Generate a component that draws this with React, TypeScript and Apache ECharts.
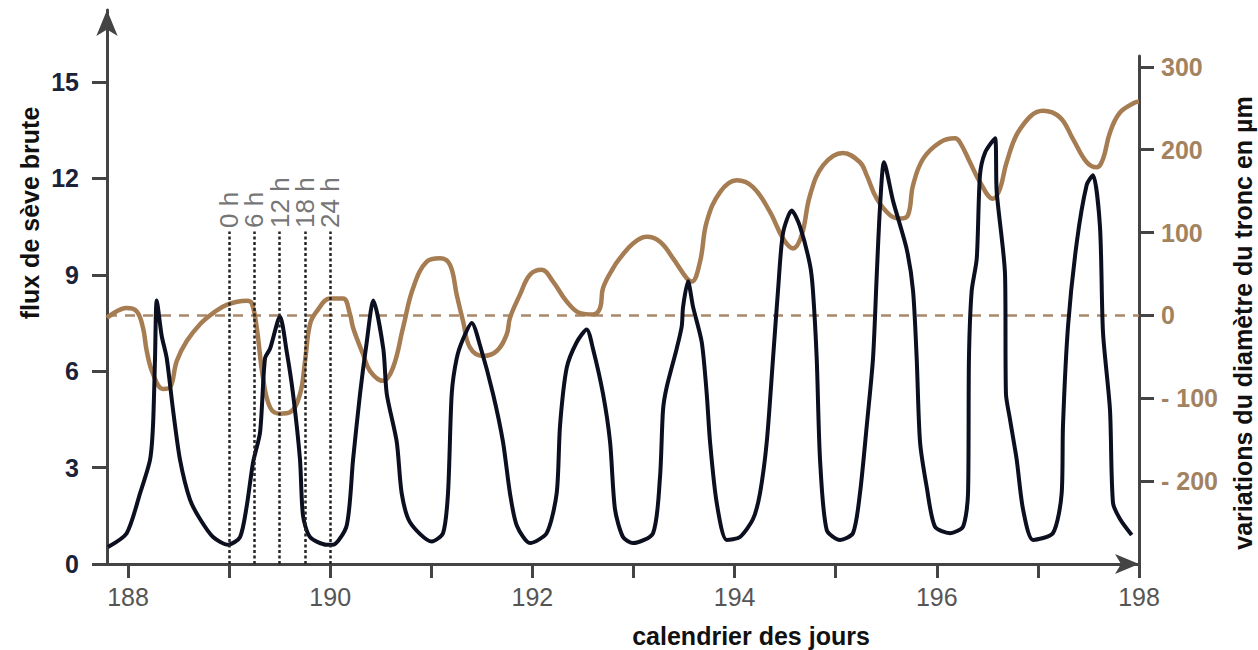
import React, { useEffect, useRef } from "react";
import * as echarts from "echarts";

// flux de sève brute (left axis) : [jour, valeur]
const fluxDays = [187.802, 187.987, 188.119, 188.218, 188.247, 188.267, 188.284, 188.333, 188.383, 188.445, 188.514, 188.613, 188.712, 188.841, 188.99, 189.108, 189.174, 189.236, 189.306, 189.355, 189.405, 189.503, 189.57, 189.632, 189.701, 189.731, 189.8, 189.965, 190.028, 190.163, 190.226, 190.295, 190.361, 190.426, 190.525, 190.559, 190.658, 190.707, 190.789, 191.004, 191.116, 191.165, 191.202, 191.251, 191.314, 191.4, 191.482, 191.61, 191.709, 191.778, 191.845, 191.976, 192.141, 192.24, 192.273, 192.339, 192.438, 192.537, 192.599, 192.698, 192.768, 192.817, 192.896, 192.995, 193.193, 193.262, 193.292, 193.328, 193.427, 193.477, 193.49, 193.539, 193.589, 193.675, 193.724, 193.757, 193.823, 193.922, 194.053, 194.182, 194.251, 194.318, 194.38, 194.429, 194.479, 194.565, 194.647, 194.746, 194.775, 194.812, 194.845, 194.911, 195.043, 195.171, 195.24, 195.307, 195.369, 195.406, 195.438, 195.478, 195.567, 195.702, 195.765, 195.801, 195.834, 195.9, 195.982, 196.131, 196.259, 196.309, 196.318, 196.345, 196.395, 196.427, 196.477, 196.576, 196.592, 196.675, 196.684, 196.724, 196.79, 196.853, 196.952, 197.149, 197.235, 197.248, 197.298, 197.384, 197.483, 197.545, 197.614, 197.644, 197.713, 197.743, 197.812, 197.928];
const fluxValues = [0.53, 0.96, 2.2, 3.25, 4.3, 6.4, 8.2, 7.1, 6.4, 4.8, 3.25, 2.0, 1.4, 0.84, 0.6, 0.84, 1.8, 3.15, 4.1, 6.4, 6.7, 7.7, 6.6, 5.3, 3.25, 1.5, 0.84, 0.6, 0.6, 1.2, 3.25, 5.3, 6.9, 8.2, 6.7, 5.3, 3.8, 2.2, 1.3, 0.7, 0.96, 2.2, 5.3, 6.4, 7.0, 7.5, 6.8, 5.3, 3.8, 2.2, 1.2, 0.65, 0.96, 2.2, 4.3, 6.1, 6.9, 7.3, 6.7, 5.3, 3.8, 1.7, 0.84, 0.65, 0.96, 2.7, 4.8, 5.5, 6.7, 7.4, 8.0, 8.8, 8.0, 6.9, 5.3, 3.8, 1.9, 0.75, 0.84, 1.4, 2.2, 3.8, 6.4, 8.5, 10.3, 11.0, 10.5, 9.3, 8.5, 6.4, 3.25, 1.06, 0.75, 0.96, 2.2, 4.3, 6.4, 9.0, 11.1, 12.5, 11.3, 9.8, 8.5, 6.4, 3.8, 2.4, 1.16, 0.96, 1.16, 2.2, 6.4, 8.5, 9.5, 12.1, 12.8, 13.25, 11.6, 9.0, 5.3, 4.5, 3.25, 1.7, 0.75, 0.96, 2.2, 4.3, 7.4, 10.0, 11.8, 12.1, 10.5, 7.2, 4.8, 1.9, 1.4, 0.9];

// variations du diamètre du tronc (right axis, µm)
const diamDays = [187.792, 187.987, 188.086, 188.148, 188.185, 188.247, 188.346, 188.415, 188.482, 188.581, 188.712, 188.841, 188.976, 189.174, 189.224, 189.273, 189.335, 189.405, 189.503, 189.602, 189.701, 189.751, 189.8, 189.866, 189.998, 190.127, 190.196, 190.226, 190.324, 190.394, 190.522, 190.621, 190.72, 190.819, 190.955, 191.086, 191.185, 191.251, 191.314, 191.383, 191.511, 191.647, 191.746, 191.778, 191.877, 191.976, 192.092, 192.204, 192.339, 192.471, 192.599, 192.669, 192.698, 192.797, 192.866, 192.995, 193.131, 193.262, 193.391, 193.526, 193.576, 193.658, 193.724, 193.856, 194.021, 194.182, 194.35, 194.479, 194.578, 194.664, 194.746, 194.875, 195.072, 195.24, 195.307, 195.406, 195.537, 195.636, 195.715, 195.765, 195.864, 196.032, 196.18, 196.229, 196.328, 196.427, 196.556, 196.625, 196.691, 196.823, 197.05, 197.219, 197.347, 197.483, 197.582, 197.644, 197.713, 197.812, 197.96, 198.0];
const diamValues = [-3, 8.8, 4.8, -15, -43, -70.6, -88.8, -87, -55, -31, -10.6, 2.8, 12.8, 17.6, 14.8, -15, -75, -111, -118.6, -117, -95, -55, -10.6, 4.8, 20.4, 20.4, 1.2, -15, -46.6, -67.2, -79, -63, -15, 32.8, 64.8, 68.8, 61, 25, -7, -39, -49, -43, -22.8, -3, 25, 49, 55, 40.8, 16.8, 2.8, 1.2, 8.8, 32.8, 56.8, 69, 86.8, 94.8, 88.8, 68.8, 44.8, 40.8, 64.8, 112.8, 148.8, 163, 154.8, 124.8, 92.8, 80.8, 97, 145, 181, 196, 184.8, 169, 140.8, 121, 116.8, 121, 157, 188.8, 208.8, 213.6, 208.8, 184.8, 160.8, 140.8, 152.8, 184.8, 224.8, 246.8, 238.8, 212.8, 184.8, 178.8, 188.8, 220.8, 244.8, 256.8, 258];

const dayTicks = [188, 189, 190, 191, 192, 193, 194, 195, 196, 197, 198];
const dayLabels = [188, 190, 192, 194, 196, 198];
const fluxTicks = [0, 3, 6, 9, 12, 15];
const diamTicks = [-200, -100, 0, 100, 200, 300];
const hourDays = [189, 189.25, 189.5, 189.75, 190];
const hourLabels = ["0 h", "6 h", "12 h", "18 h", "24 h"];
const hourLineTop = 10.35;
const hourLineBottom = 0;

const FONT = "Liberation Sans, Arial, sans-serif";
const AXIS_COLOR = "#444";

export default function App() {
  const ref = useRef<HTMLDivElement>(null);
  useEffect(() => {
    if (!ref.current) return;
    const chart = echarts.init(ref.current, undefined, { renderer: "svg" });
    const xMin = 187.792;
    const xMax = 198;
    const option: any = {
      animation: false,
      backgroundColor: "#fff",
      textStyle: { fontFamily: FONT },
      grid: [
        { left: 107, right: 119, top: 10, bottom: 86 },
        { left: 107, right: 119, top: 56, bottom: 86 },
      ],
      xAxis: [
        {
          type: "value",
          gridIndex: 0,
          min: xMin,
          max: xMax,
          axisLine: {
            onZero: false,
            symbol: ["none", "arrow"],
            symbolSize: [15, 24],
            lineStyle: { color: AXIS_COLOR, width: 3 },
          },
          axisTick: { show: true, length: 14, lineStyle: { color: AXIS_COLOR, width: 3 }, customValues: dayTicks },
          axisLabel: {
            customValues: dayLabels,
            formatter: (v: number) => String(Math.round(v)),
            color: "#555",
            fontSize: 25,
            fontFamily: FONT,
            margin: 20,
          },
          splitLine: { show: false },
        },
        {
          type: "value",
          gridIndex: 1,
          min: xMin,
          max: xMax,
          show: false,
        },
      ],
      yAxis: [
        {
          type: "value",
          gridIndex: 0,
          position: "left",
          min: 0,
          max: 17.24,
          axisLine: {
            show: true,
            onZero: false,
            symbol: ["none", "arrow"],
            symbolSize: [16, 26],
            lineStyle: { color: AXIS_COLOR, width: 3 },
          },
          axisTick: { show: true, length: 15, lineStyle: { color: AXIS_COLOR, width: 3 }, customValues: fluxTicks },
          axisLabel: {
            customValues: fluxTicks,
            color: "#1c2237",
            fontSize: 25,
            fontWeight: "bold",
            fontFamily: FONT,
            margin: 28,
          },
          splitLine: { show: false },
        },
        {
          type: "value",
          gridIndex: 1,
          position: "right",
          min: -300,
          max: 313,
          axisLine: { show: true, onZero: false, lineStyle: { color: AXIS_COLOR, width: 3 } },
          axisTick: { show: true, length: 15, lineStyle: { color: AXIS_COLOR, width: 3 }, customValues: diamTicks },
          axisLabel: {
            customValues: diamTicks,
            formatter: (v: number) => (v < 0 ? "- " + Math.abs(v) : String(v)),
            color: "#a3835f",
            fontSize: 25,
            fontWeight: "bold",
            fontFamily: FONT,
            margin: 22,
          },
          splitLine: { show: false },
        },
      ],
      series: [
        {
          type: "line",
          name: "diametre",
          xAxisIndex: 1,
          yAxisIndex: 1,
          data: diamDays.map((d, i) => [d, diamValues[i]]),
          showSymbol: false,
          smooth: 0.4,
          lineStyle: { color: "#a67c52", width: 4.5 },
          z: 2,
          markLine: {
            silent: true,
            symbol: ["none", "none"],
            label: { show: false },
            lineStyle: { color: "#a8886a", type: [10, 8], width: 2.5 },
            data: [{ yAxis: 0 }],
            z: 1,
          },
        },
        {
          type: "line",
          name: "flux",
          xAxisIndex: 0,
          yAxisIndex: 0,
          data: fluxDays.map((d, i) => [d, fluxValues[i]]),
          showSymbol: false,
          smooth: 0.25,
          lineStyle: { color: "#0b0f1f", width: 4 },
          z: 3,
          markLine: {
            silent: true,
            symbol: ["none", "none"],
            label: { show: false },
            lineStyle: { color: "#222", type: [3, 2.5], width: 2.5 },
            data: hourDays.map((d) => [{ coord: [d, hourLineBottom] }, { coord: [d, hourLineTop] }]),
          },
        },
        {
          type: "scatter",
          xAxisIndex: 0,
          yAxisIndex: 0,
          silent: true,
          symbolSize: 1,
          itemStyle: { color: "rgba(0,0,0,0)" },
          data: hourDays.map((d, i) => ({ value: [d, hourLineTop], name: hourLabels[i] })),
          label: {
            show: true,
            position: "top",
            distance: 3,
            rotate: 90,
            align: "left",
            verticalAlign: "middle",
            formatter: (p: any) => p.name,
            color: "#505050",
            fontSize: 26,
            fontFamily: FONT,
          },
          z: 4,
        },
      ],
      graphic: [
        {
          type: "text",
          x: 30,
          y: 213,
          rotation: Math.PI / 2,
          style: {
            text: "flux de sève brute",
            font: "bold 25px " + FONT,
            fill: "#111",
            align: "center",
            verticalAlign: "middle",
            textAlign: "center",
            textVerticalAlign: "middle",
          },
        },
        {
          type: "text",
          x: 751,
          y: 636,
          style: {
            text: "calendrier des jours",
            font: "bold 25px " + FONT,
            fill: "#111",
            align: "center",
            verticalAlign: "middle",
            textAlign: "center",
            textVerticalAlign: "middle",
          },
        },
        {
          type: "text",
          x: 1243,
          y: 323,
          rotation: Math.PI / 2,
          style: {
            text: "variations du diamètre du tronc en µm",
            font: "bold 25px " + FONT,
            fill: "#111",
            align: "center",
            verticalAlign: "middle",
            textAlign: "center",
            textVerticalAlign: "middle",
          },
        },
      ],
    };
    chart.setOption(option);
    return () => chart.dispose();
  }, []);
  return (
    <div
      ref={ref}
      style={{ position: "fixed", left: 0, top: 0, width: 1258, height: 650, background: "#fff" }}
    />
  );
}
